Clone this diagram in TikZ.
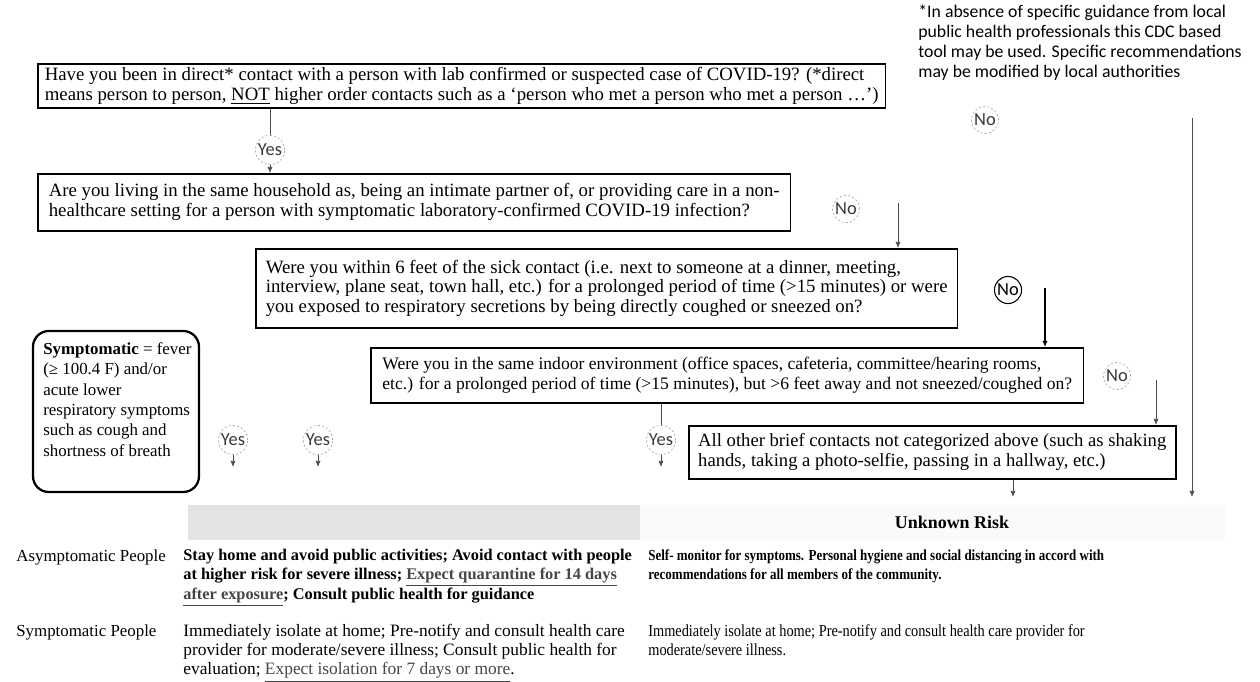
\documentclass[tikz,border=0pt]{standalone}
\usepackage{fontspec}
\setmainfont{Liberation Serif}
\newfontfamily\notefont{Carlito}
\newfontfamily\condfont{Liberation Serif}[FakeStretch=0.85]
\usetikzlibrary{positioning}
\usetikzlibrary{calc}
\usetikzlibrary{fit}
\usetikzlibrary{arrows.meta}
\newcommand{\ulgray}[1]{\textcolor{gray!55!black}{\underline{#1}}}
\tikzset{
	qbox/.style = {draw, line width=0.9pt, align=left, anchor=north west, inner xsep=4pt, inner ysep=2pt, font=\fontsize{10.7}{11.3}\selectfont},
	ans/.style = {circle, draw=gray!65, dash pattern=on 1.2pt off 1.2pt, inner sep=0.5pt, minimum size=0.54cm, font=\notefont\fontsize{10.5}{10.5}\selectfont, text=gray!45!black},
	flow/.style = {draw=gray!60!black, line width=0.45pt, -{Latex[length=3.5pt,width=3pt]}},
	link/.style = {draw=gray!60!black, line width=0.45pt},
	cell/.style = {anchor=north west, align=left, inner sep=0pt},
	rowlab/.style = {anchor=north west, inner sep=0pt, font=\fontsize{9.6}{10.9}\selectfont}
}
\begin{document}
\begin{tikzpicture}[x=0.02cm, y=-0.02cm]
	\useasboundingbox (0,0) rectangle (1260,681);
	
	% Note
	\node (note) [anchor=north west, align=left, inner sep=0pt, font=\notefont\fontsize{10.1}{11.3}\selectfont] at (918,5)
		{*In absence of specific guidance from local\\public health professionals this CDC based\\tool may be used. Specific recommendations\\may be modified by local authorities};
	
	% Questions
	\node (q1) [qbox, minimum width=16.9cm, minimum height=0.84cm] at (37,63)
		{Have you been in direct* contact with a person with lab confirmed or suspected case of COVID-19? (*direct\\means person to person, \underline{NOT} higher order contacts such as a ‘person who met a person who met a person …’)};
	\node (q2) [qbox, minimum width=15.06cm, minimum height=1.14cm] at (37,173)
		{Are you living in the same household as, being an intimate partner of, or providing care in a non-\\healthcare setting for a person with symptomatic laboratory-confirmed COVID-19 infection?};
	\node (q3) [qbox, minimum width=14.04cm, minimum height=1.58cm] at (255,248)
		{Were you within 6 feet of the sick contact (i.e. next to someone at a dinner, meeting,\\interview, plane seat, town hall, etc.) for a prolonged period of time (>15 minutes) or were\\you exposed to respiratory secretions by being directly coughed or sneezed on?};
	\node (q4) [qbox, minimum width=14.26cm, minimum height=1.1cm, font=\fontsize{10}{11.3}\selectfont] at (370,347)
		{Were you in the same indoor environment (office spaces, cafeteria, committee/hearing rooms,\\etc.) for a prolonged period of time (>15 minutes), but >6 feet away and not sneezed/coughed on?};
	\node (q5) [qbox, minimum width=9.74cm, minimum height=1.06cm, font=\fontsize{10.6}{11.3}\selectfont] at (688,425)
		{All other brief contacts not categorized above (such as shaking\\hands, taking a photo-selfie, passing in a hallway, etc.)};
	
	% Definition
	\node (symtxt) [anchor=north west, align=left, inner sep=0pt, font=\fontsize{9.6}{11.6}\selectfont] at (43,342)
		{\textbf{Symptomatic} = fever\\(≥ 100.4 F) and/or\\acute lower\\respiratory symptoms\\such as cough and\\shortness of breath};
	\node (sym) [draw, line width=1.3pt, rounded corners=9pt, inner sep=0pt, fit={(33,331) (199,492)}] {};
	
	% Answers
	\node (yes1) [ans] at (270,150) {Yes};
	\node (no1) [ans] at (985,120) {No};
	\node (no2) [ans] at (846,209) {No};
	\node (no3) [ans, draw=black, solid, line width=0.6pt, text=black] at (1008,290) {No};
	\node (no4) [ans] at (1117,376) {No};
	\node (yes2) [ans] at (233,440) {Yes};
	\node (yes3) [ans] at (318,440) {Yes};
	\node (yes4) [ans] at (661,440) {Yes};
	
	\coordinate (drop) at (0,467);
	\coordinate (n1top) at (1192,118);
	\coordinate (n1end) at (1192,497);
	\coordinate (n2top) at (898,203);
	\coordinate (n3top) at (1045,288);
	\coordinate (n4top) at (1156,380);
	\coordinate (q5out) at (1013,497);
	
	\draw[link] (yes1.north |- q1.south) -- (yes1.north);
	\draw[flow] (yes1.south) -- (yes1.south |- q2.north);
	\draw[flow] (n1top) -- (n1end);
	\draw[flow] (n2top) -- (n2top |- q3.north);
	\draw[flow, draw=black, line width=0.6pt] (n3top) -- (n3top |- q4.north);
	\draw[flow] (n4top) -- (n4top |- q5.north);
	\draw[flow] (q5.south -| q5out) -- (q5out);
	\draw[link] (yes4.north |- q4.south) -- (yes4.north);
	\draw[flow] (yes2.south) -- (yes2.south |- drop);
	\draw[flow] (yes3.south) -- (yes3.south |- drop);
	\draw[flow] (yes4.south) -- (yes4.south |- drop);
	
	% Risk table
	\node (hdr1) [fill=gray!22, inner sep=0pt, minimum width=9.04cm, minimum height=0.7cm] at (414,522) {};
	\node (hdr2) [fill=gray!4, inner sep=0pt, minimum width=11.7cm, minimum height=0.7cm] at (932.5,522) {};
	\node (unk) [font=\bfseries\fontsize{10.2}{10.2}\selectfont] at (952,522) {Unknown Risk};
	
	\node (asym) [rowlab] at (16,549) {Asymptomatic People};
	\node (symp) [rowlab] at (16,624) {Symptomatic People};
	
	\node (a1) [cell, font=\bfseries\fontsize{9.3}{10.9}\selectfont] at (183,549)
		{Stay home and avoid public activities; Avoid contact with people\\at higher risk for severe illness; \ulgray{Expect quarantine for 14 days}\\\ulgray{after exposure}; Consult public health for guidance};
	\node (a2) [cell, font=\condfont\bfseries\fontsize{8.7}{10.9}\selectfont] at (648,549)
		{Self- monitor for symptoms. Personal hygiene and social distancing in accord with\\recommendations for all members of the community.};
	\node (s1) [cell, font=\fontsize{9.9}{10.9}\selectfont] at (183,624)
		{Immediately isolate at home; Pre-notify and consult health care\\provider for moderate/severe illness; Consult public health for\\evaluation; \ulgray{Expect isolation for 7 days or more}.};
	\node (s2) [cell, font=\condfont\fontsize{9.6}{10.9}\selectfont] at (648,624)
		{Immediately isolate at home; Pre-notify and consult health care provider for\\moderate/severe illness.};
	
\end{tikzpicture}
\end{document}
